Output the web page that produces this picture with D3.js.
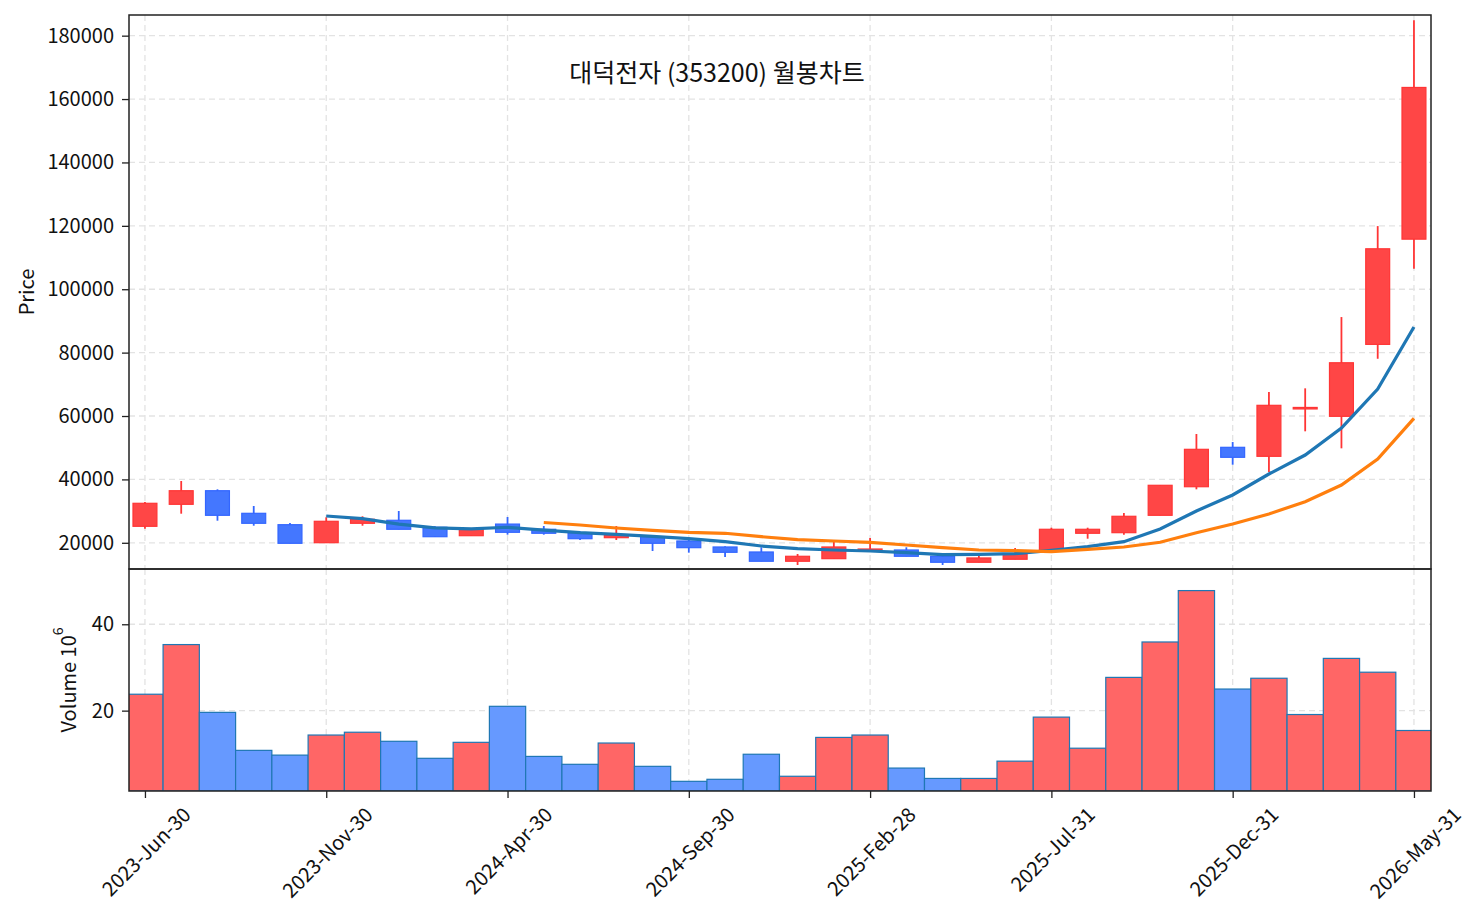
<!DOCTYPE html>
<html><head><meta charset="utf-8">
<script src="https://cdn.jsdelivr.net/npm/d3@7"></script>
<style>
body{margin:0;background:#fff}
text{font-family:"Noto Sans CJK KR","Noto Sans",sans-serif;fill:#111}
</style>
</head><body>
<svg id="c" width="1481" height="924"></svg>
<script>
// ---------- data ----------
const months = ["2023-06-30","2023-07-31","2023-08-31","2023-09-30","2023-10-31","2023-11-30",
  "2023-12-31","2024-01-31","2024-02-29","2024-03-31","2024-04-30","2024-05-31",
  "2024-06-30","2024-07-31","2024-08-31","2024-09-30","2024-10-31","2024-11-30",
  "2024-12-31","2025-01-31","2025-02-28","2025-03-31","2025-04-30","2025-05-31",
  "2025-06-30","2025-07-31","2025-08-31","2025-09-30","2025-10-31","2025-11-30",
  "2025-12-31","2026-01-31","2026-02-28","2026-03-31","2026-04-30","2026-05-31"];
const openP  = [25200,32140,36430,29300,25710,20030,26150,27100,24890,22240,25900,24260,
  23000,21610,21920,20570,18680,17100,14170,14990,17410,17730,15740,13850,
  14800,17730,23000,23190,28670,37690,50120,47280,62300,59900,82600,115800];
const highP  = [32870,39490,36870,31610,26250,28040,28360,30030,25200,24500,28140,25300,
  23600,25300,22200,21000,18900,18580,16470,20790,21510,18580,15900,15930,
  18360,24760,24760,29400,38140,54320,51790,67560,68730,91220,119920,184900];
const lowP   = [24450,29180,26970,25390,19840,20030,25390,24260,21920,22240,22560,22560,
  20880,20880,17410,16880,15520,14170,13000,14990,17100,15740,13000,13850,
  14800,17500,21290,22560,28670,36870,44630,42330,55170,49800,78060,106450];
const closeP = [32460,36430,28670,26150,19840,26780,27410,24260,21920,24260,23310,23000,
  21290,22460,19840,18460,17000,14170,15740,18680,18040,15740,13850,15210,
  16370,24260,24260,28360,38140,49490,46970,63370,62700,76800,112760,163660];
const volume = [23.8,35.3,19.6,10.8,9.7,14.35,15.0,12.9,8.96,12.66,21.0,9.4,
  7.57,12.5,7.1,3.63,4.1,9.9,4.8,13.8,14.35,6.7,4.3,4.3,
  8.3,18.5,11.3,27.7,35.9,47.8,25.0,27.5,19.1,32.1,28.9,15.4];
const maBlue = [null,null,null,null,null,28450,27600,25900,24700,24400,24900,24000,
  23190,22680,22050,21290,20350,18990,18140,17730,17410,16880,16250,16370,
  16560,17630,18770,20350,24350,30030,35080,41700,47690,56200,68500,88100];
const maOrange = [null,null,null,null,null,null,null,null,null,null,null,26400,
  25610,24670,23940,23310,23000,21920,20980,20570,20160,19310,18460,17730,
  17510,17190,17950,18680,20160,23190,25930,29100,32960,38230,46430,59270];
const tickIdx = [0,5,10,15,20,25,30,35];
const tickLabels = ["2023-Jun-30","2023-Nov-30","2024-Apr-30","2024-Sep-30",
  "2025-Feb-28","2025-Jul-31","2025-Dec-31","2026-May-31"];
const priceTicks = [20000,40000,60000,80000,100000,120000,140000,160000,180000];
const volTicks = [20,40];
const title = "대덕전자 (353200) 월봉차트";

// ---------- layout ----------
const W=1481,H=924, L=129,R=1431,T=15,MID=569,B=791;
const FS=20;
const svg=d3.select('#c');
svg.append('rect').attr('width',W).attr('height',H).attr('fill','#fff');

const idx = d3.range(months.length);
const x=d3.scaleLinear().domain([-0.44,35.47]).range([L,R]);
const step=x(1)-x(0);
const yP=d3.scaleLinear().domain([11730,186520]).range([MID,T]);
const yV=d3.scaleLinear().domain([1.39,52.8]).range([B,MID]);

const defs=svg.append('defs');
defs.append('clipPath').attr('id','cp').append('rect').attr('x',L).attr('y',T).attr('width',R-L).attr('height',MID-T);
defs.append('clipPath').attr('id','cv').append('rect').attr('x',L).attr('y',MID).attr('width',R-L).attr('height',B-MID);

const gridC='#e3e3e3', dash='6,4';
// grids
const gP=svg.append('g');
gP.selectAll('.hx').data(priceTicks).join('line')
  .attr('x1',L).attr('x2',R).attr('y1',d=>yP(d)).attr('y2',d=>yP(d))
  .attr('stroke',gridC).attr('stroke-width',1.3).attr('stroke-dasharray',dash);
gP.selectAll('.vx').data(tickIdx).join('line')
  .attr('x1',d=>x(d)).attr('x2',d=>x(d)).attr('y1',T).attr('y2',MID)
  .attr('stroke',gridC).attr('stroke-width',1.3).attr('stroke-dasharray',dash);
const gV=svg.append('g');
gV.selectAll('.hv').data(volTicks).join('line')
  .attr('x1',L).attr('x2',R).attr('y1',d=>yV(d)).attr('y2',d=>yV(d))
  .attr('stroke',gridC).attr('stroke-width',1.3).attr('stroke-dasharray',dash);
gV.selectAll('.vv').data(tickIdx).join('line')
  .attr('x1',d=>x(d)).attr('x2',d=>x(d)).attr('y1',MID).attr('y2',B)
  .attr('stroke',gridC).attr('stroke-width',1.3).attr('stroke-dasharray',dash);

// candles
const up=i=>closeP[i]>=openP[i];
const cg=svg.append('g').attr('clip-path','url(#cp)');
const bw=step*0.66;
cg.selectAll('.wick').data(idx).join('line')
  .attr('x1',i=>x(i)).attr('x2',i=>x(i))
  .attr('y1',i=>yP(highP[i])).attr('y2',i=>yP(lowP[i]))
  .attr('stroke',i=>up(i)?'#ff3535':'#3366ff').attr('stroke-width',1.8);
cg.selectAll('.body').data(idx).join('rect')
  .attr('x',i=>x(i)-bw/2).attr('width',bw)
  .attr('y',i=>yP(Math.max(openP[i],closeP[i])))
  .attr('height',i=>Math.max(1.5,Math.abs(yP(openP[i])-yP(closeP[i]))))
  .attr('fill',i=>up(i)?'#ff4646':'#4477ff')
  .attr('stroke',i=>up(i)?'#ff3535':'#3366ff').attr('stroke-width',1.2);

// moving averages
const lineGen=arr=>d3.line().defined(i=>arr[i]!=null).x(i=>x(i)).y(i=>yP(arr[i]))(idx);
cg.append('path').attr('d',lineGen(maBlue)).attr('fill','none').attr('stroke','#1f77b4').attr('stroke-width',3.2);
cg.append('path').attr('d',lineGen(maOrange)).attr('fill','none').attr('stroke','#ff7f0e').attr('stroke-width',3.2);

// volume
const vg=svg.append('g').attr('clip-path','url(#cv)');
vg.selectAll('rect').data(idx).join('rect')
  .attr('x',i=>x(i)-step/2).attr('width',step)
  .attr('y',i=>yV(volume[i])).attr('height',i=>B-yV(volume[i]))
  .attr('fill',i=>up(i)?'#ff6666':'#6699ff')
  .attr('stroke','#1f77b4').attr('stroke-width',1.2);

// frames
svg.append('rect').attr('x',L).attr('y',T).attr('width',R-L).attr('height',MID-T)
  .attr('fill','none').attr('stroke','#222').attr('stroke-width',1.5);
svg.append('rect').attr('x',L).attr('y',MID).attr('width',R-L).attr('height',B-MID)
  .attr('fill','none').attr('stroke','#222').attr('stroke-width',1.5);

// axes
function styleAxis(g){
  g.select('.domain').remove();
  g.selectAll('.tick line').attr('stroke','#222').attr('stroke-width',1.3);
  g.selectAll('.tick text').attr('font-size',FS).attr('fill','#111')
    .style('font-family','"Noto Sans CJK KR","Noto Sans",sans-serif');
}
svg.append('g').attr('transform',`translate(${L},0)`)
  .call(d3.axisLeft(yP).tickValues(priceTicks).tickSize(7).tickPadding(8).tickFormat(d3.format('d')))
  .call(styleAxis);
svg.append('g').attr('transform',`translate(${L},0)`)
  .call(d3.axisLeft(yV).tickValues(volTicks).tickSize(7).tickPadding(8).tickFormat(d3.format('d')))
  .call(styleAxis);
const xa=svg.append('g').attr('transform',`translate(0,${B})`)
  .call(d3.axisBottom(x).tickValues(tickIdx).tickSize(7).tickPadding(4).tickFormat((d,i)=>tickLabels[i]))
  .call(styleAxis);
xa.selectAll('.tick text').each(function(){
  const t=d3.select(this);
  const w=this.getComputedTextLength();
  const Hh=(w+FS)/Math.SQRT2;
  t.attr('y',null).attr('dy',null).attr('text-anchor','middle')
   .attr('dominant-baseline','central')
   .attr('transform',`translate(0,${7+5+Hh/2}) rotate(-45)`);
});

// labels
svg.append('text').attr('transform',`translate(25,${(T+MID)/2}) rotate(-90)`)
  .attr('text-anchor','middle').attr('dominant-baseline','central').attr('font-size',FS).text('Price');
const vl=svg.append('text').attr('transform',`translate(67,${(MID+B)/2}) rotate(-90)`)
  .attr('text-anchor','middle').attr('dominant-baseline','central').attr('font-size',FS);
vl.append('tspan').text('Volume  10');
vl.append('tspan').attr('font-size',FS*0.7).attr('baseline-shift','super').text('6');

svg.append('text').attr('x',717).attr('y',82).attr('text-anchor','middle')
  .attr('font-size',25).text(title);
</script>
</body></html>
